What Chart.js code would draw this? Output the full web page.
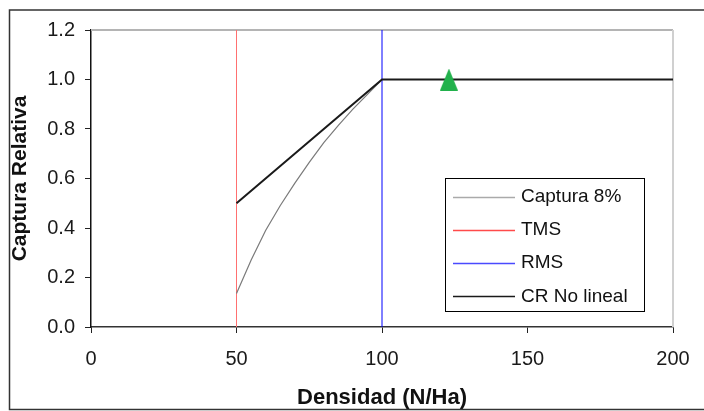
<!DOCTYPE html>
<html>
<head>
<meta charset="utf-8">
<script src="https://cdn.jsdelivr.net/npm/chart.js@4.4.1/dist/chart.umd.min.js"></script>
<style>
  html, body { margin: 0; padding: 0; background: #fff; }
  #wrap { width: 704px; height: 411px; }
</style>
</head>
<body>
<div id="wrap"><canvas id="chart" width="704" height="411"></canvas></div>
<script>
// data
var captura8X = [50, 55, 60, 65, 70, 75, 80, 85, 90, 95, 100, 200];
var captura8Y = [0.135, 0.27, 0.39, 0.49, 0.58, 0.665, 0.745, 0.815, 0.88, 0.94, 1.0, 1.0];
var tmsX = [50, 50];
var tmsY = [0, 1.2];
var rmsX = [100, 100];
var rmsY = [0, 1.2];
var crX = [50, 100, 200];
var crY = [0.5, 1.0, 1.0];
var markerX = [123];
var markerY = [1.0];

var labels = ['Captura 8%', 'TMS', 'RMS', 'CR No lineal'];
var colors = ['#7a7a7a', '#ff7070', '#0000ff', '#1a1a1a'];
var xTicks = [0, 50, 100, 150, 200];
var yTicks = [0, 0.2, 0.4, 0.6, 0.8, 1.0, 1.2];

var FONT = "'Liberation Sans', Arial, sans-serif";

var pts = (xs, ys) => xs.map((x, i) => ({ x: x, y: ys[i] }));

// green triangle marker, a bit taller than wide
var tri = document.createElement('canvas');
tri.width = 18; tri.height = 22;
var tctx = tri.getContext('2d');
tctx.fillStyle = '#22b14c';
tctx.beginPath();
tctx.moveTo(9, 0);
tctx.lineTo(18, 22);
tctx.lineTo(0, 22);
tctx.closePath();
tctx.fill();

var frame = {
  id: 'frame',
  beforeDatasetsDraw: (chart) => {
    var ctx = chart.ctx, a = chart.chartArea;
    ctx.save();
    // outer border of the figure
    ctx.strokeStyle = '#333';
    ctx.lineWidth = 1.5;
    ctx.strokeRect(9.5, 10, 720, 399.5);
    // plot area top / right
    ctx.strokeStyle = '#b4b4b4';
    ctx.lineWidth = 2;
    ctx.beginPath();
    ctx.moveTo(a.left, a.top);
    ctx.lineTo(a.right, a.top);
    ctx.stroke();
    ctx.strokeStyle = '#d0d0d0';
    ctx.beginPath();
    ctx.moveTo(a.right, a.top);
    ctx.lineTo(a.right, a.bottom);
    ctx.stroke();
    ctx.restore();
  },
  afterDraw: (chart) => {
    // legend box inside the plot
    var ctx = chart.ctx;
    var bx = 445.5, by = 178.5, bw = 199, bh = 133;
    var sample = ['#aaaaaa', '#ff4a4a', '#4a4aff', '#1a1a1a'];
    ctx.save();
    ctx.fillStyle = '#fff';
    ctx.fillRect(bx, by, bw, bh);
    ctx.strokeStyle = '#000';
    ctx.lineWidth = 1;
    ctx.strokeRect(bx, by, bw, bh);
    ctx.font = '19px ' + FONT;
    ctx.textBaseline = 'middle';
    ctx.fillStyle = '#111';
    labels.forEach((l, i) => {
      var y = 197 + i * 33.1;
      ctx.strokeStyle = sample[i];
      ctx.lineWidth = 1.5;
      ctx.beginPath();
      ctx.moveTo(453, Math.round(y) + 0.5);
      ctx.lineTo(515, Math.round(y) + 0.5);
      ctx.stroke();
      ctx.fillText(l, 521, y);
    });
    ctx.restore();
  }
};

new Chart(document.getElementById('chart'), {
  type: 'scatter',
  data: {
    datasets: [
      { label: labels[0], data: pts(captura8X, captura8Y), borderColor: colors[0], borderWidth: 1.2, showLine: true, pointRadius: 0, order: 3 },
      { label: labels[1], data: pts(tmsX, tmsY), borderColor: colors[1], borderWidth: 1, showLine: true, pointRadius: 0, order: 4 },
      { label: labels[2], data: pts(rmsX, rmsY), borderColor: colors[2], borderWidth: 1, showLine: true, pointRadius: 0, order: 4 },
      { label: labels[3], data: pts(crX, crY), borderColor: colors[3], borderWidth: 2, showLine: true, pointRadius: 0, order: 2 },
      { label: '', data: pts(markerX, markerY), pointStyle: tri, pointRadius: 11, showLine: false, order: 1 }
    ]
  },
  options: {
    responsive: false,
    animation: false,
    events: [],
    layout: { padding: { top: 30, right: 31, left: 0, bottom: 0 } },
    plugins: {
      legend: { display: false },
      tooltip: { enabled: false }
    },
    scales: {
      x: {
        type: 'linear',
        min: 0,
        max: 200,
        afterFit: (scale) => { scale.height = 84; },
        afterBuildTicks: (scale) => { scale.ticks = xTicks.map(v => ({ value: v })); },
        ticks: {
          padding: 14,
          color: '#1a1a1a',
          font: { family: FONT, size: 20 }
        },
        grid: { drawOnChartArea: false, drawTicks: true, tickLength: 6, tickColor: '#222' },
        border: { color: '#333', width: 1.5 },
        title: {
          display: true,
          text: 'Densidad (N/Ha)',
          color: '#111',
          font: { family: FONT, size: 22, weight: 'bold' },
          padding: { top: 0, bottom: 0 }
        }
      },
      y: {
        type: 'linear',
        min: 0,
        max: 1.2,
        afterFit: (scale) => { scale.width = 91; },
        afterBuildTicks: (scale) => { scale.ticks = yTicks.map(v => ({ value: v })); },
        ticks: {
          padding: 10,
          color: '#1a1a1a',
          font: { family: FONT, size: 20 },
          callback: (v) => v.toFixed(1)
        },
        grid: { drawOnChartArea: false, drawTicks: true, tickLength: 6, tickColor: '#222' },
        border: { color: '#111', width: 1.5 },
        title: {
          display: true,
          text: 'Captura Relativa',
          color: '#111',
          font: { family: FONT, size: 21, weight: 'bold' },
          padding: { top: 8, bottom: 0 }
        }
      }
    }
  },
  plugins: [frame]
});
</script>
</body>
</html>
